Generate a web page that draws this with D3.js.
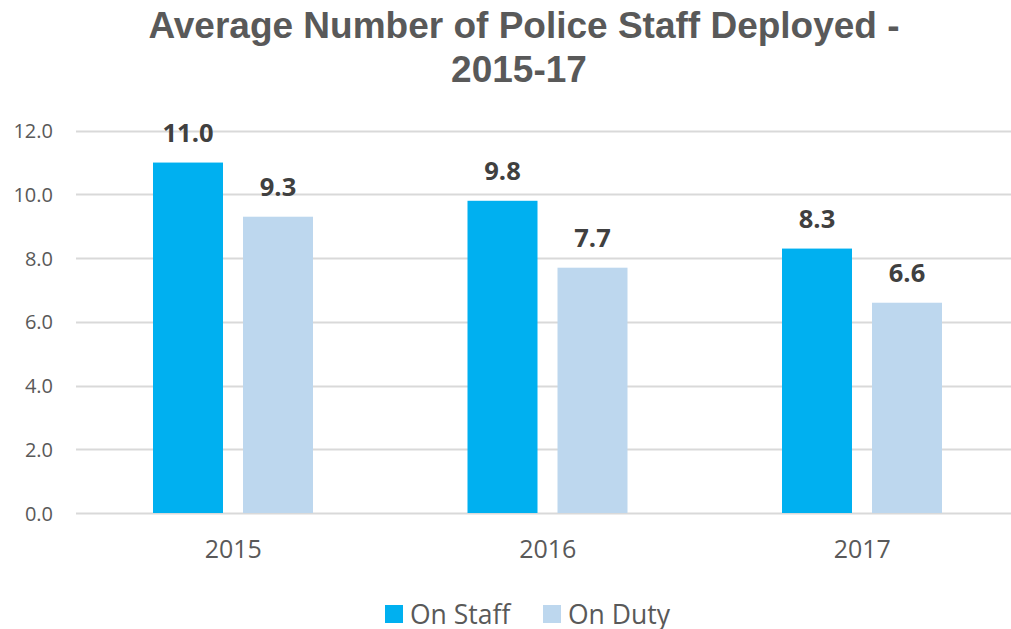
<!DOCTYPE html>
<html><head><meta charset="utf-8">
<script src="https://cdn.jsdelivr.net/npm/d3@7"></script>
<style>body{margin:0;background:#fff;}svg{display:block;}</style>
</head><body>
<svg id="c" width="1011" height="629"></svg>
<script>
const categories = ["2015", "2016", "2017"];
const seriesNames = ["On Staff", "On Duty"];
const onStaff = [11.0, 9.8, 8.3];
const onDuty = [9.3, 7.7, 6.6];
const yTicks = [0, 2, 4, 6, 8, 10, 12];
const colors = ["#00B0F0", "#BDD7EE"];

const svg = d3.select("#c");
const plotLeft = 76, plotRight = 1019.5, plotTop = 130.7, plotBottom = 513;
const x = d3.scaleBand().domain(categories).range([plotLeft, plotRight]).paddingInner(0).paddingOuter(0);
const x1 = d3.scaleBand().domain(seriesNames).range([77, 237]).paddingInner(20/90).paddingOuter(0);
const y = d3.scaleLinear().domain([0, 12]).range([plotBottom, plotTop]);

// title
const title = svg.append("text").attr("text-anchor", "middle")
  .attr("font-family", "Liberation Sans, Arial, sans-serif").attr("font-weight", "bold")
  .attr("font-size", 37).attr("fill", "#595959");
title.append("tspan").attr("x", 524).attr("y", 38).text("Average Number of Police Staff Deployed -");
title.append("tspan").attr("x", 519).attr("y", 82).text("2015-17");

// grid
svg.append("g").selectAll("line").data(yTicks).join("line")
  .attr("x1", plotLeft).attr("x2", 1011)
  .attr("y1", d => Math.round(y(d)) + 0.5).attr("y2", d => Math.round(y(d)) + 0.5)
  .attr("stroke", "#D9D9D9").attr("stroke-width", 2);

// y labels
svg.append("g").selectAll("text").data(yTicks).join("text")
  .attr("x", 53).attr("y", d => y(d) + 7.5).attr("text-anchor", "end")
  .attr("font-family", "Open Sans, sans-serif").attr("font-size", 20).attr("fill", "#595959")
  .text(d => d.toFixed(1));

const data = categories.map((c, i) => ({c, vals: [onStaff[i], onDuty[i]]}));
const groups = svg.append("g").selectAll("g").data(data).join("g")
  .attr("transform", d => `translate(${x(d.c)},0)`);
groups.selectAll("rect").data(d => d.vals.map((v, j) => ({v, s: seriesNames[j], j}))).join("rect")
  .attr("x", d => x1(d.s)).attr("width", x1.bandwidth())
  .attr("y", d => y(d.v)).attr("height", d => plotBottom - y(d.v))
  .attr("fill", d => colors[d.j]);
groups.selectAll("text.v").data(d => d.vals.map((v, j) => ({v, s: seriesNames[j]}))).join("text")
  .attr("class", "v").attr("x", d => x1(d.s) + x1.bandwidth() / 2).attr("y", d => y(d.v) - 21)
  .attr("text-anchor", "middle").attr("font-family", "Open Sans, sans-serif").attr("font-weight", "bold")
  .attr("font-size", 25.5).attr("fill", "#404040").text(d => d.v.toFixed(1));

// x labels
svg.append("g").selectAll("text").data(categories).join("text")
  .attr("x", d => x(d) + x.bandwidth() / 2).attr("y", 558).attr("text-anchor", "middle")
  .attr("font-family", "Open Sans, sans-serif").attr("font-size", 25).attr("fill", "#595959")
  .text(d => d);

// legend
const legX = [385, 543];
const leg = svg.append("g").selectAll("g").data(seriesNames).join("g")
  .attr("transform", (d, i) => `translate(${legX[i]},605)`);
leg.append("rect").attr("width", 18).attr("height", 18).attr("fill", (d, i) => colors[i]);
leg.append("text").attr("x", 25).attr("y", 18.5).attr("font-family", "Open Sans, sans-serif")
  .attr("font-size", 26.5).attr("fill", "#595959").text(d => d);
</script>
</body></html>
